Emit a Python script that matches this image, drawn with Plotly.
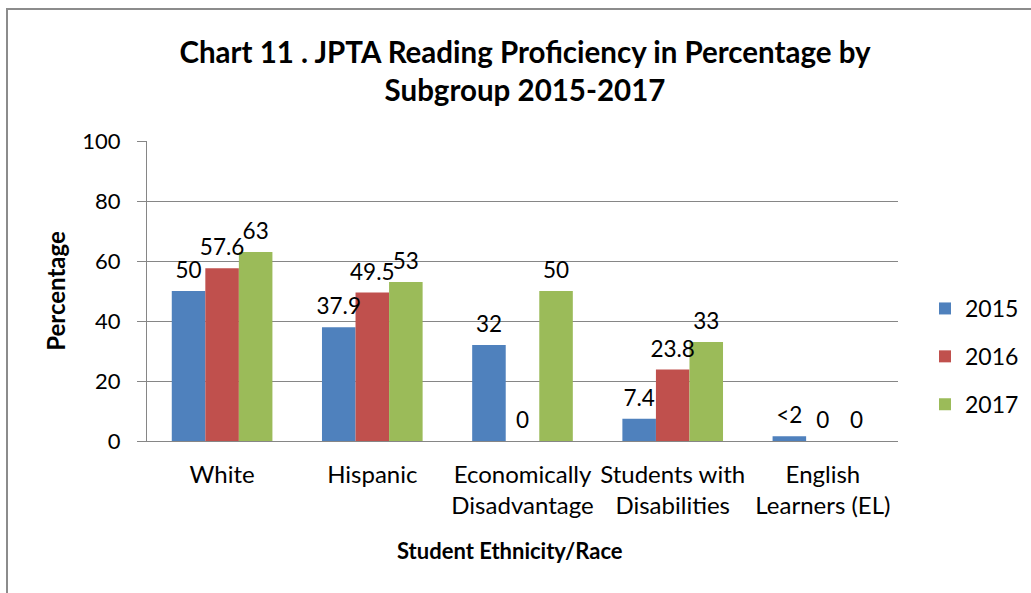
import plotly.graph_objects as go

# Subgroups on the category axis
categories = [
    "White",
    "Hispanic",
    "Economically<br>Disadvantage",
    "Students with<br>Disabilities",
    "English<br>Learners (EL)",
]

# Reading proficiency (%) per year
years = ["2015", "2016", "2017"]
values_2015 = [50, 37.9, 32, 7.4, 1.6]
values_2016 = [57.6, 49.5, 0, 23.8, 0]
values_2017 = [63, 53, 50, 33, 0]

# Bar labels (the small EL value is reported as "<2")
labels_2015 = ["50", "37.9", "32", "7.4", "<2"]
labels_2016 = ["57.6", "49.5", "0", "23.8", "0"]
labels_2017 = ["63", "53", "50", "33", "0"]

colors = ["#4F81BD", "#C0504D", "#9BBB59"]
FONT = "Lato, Open Sans, sans-serif"

fig = go.Figure()
series = list(zip(
    years,
    [values_2015, values_2016, values_2017],
    [labels_2015, labels_2016, labels_2017],
    colors,
))

for name, vals, labs, col in series:
    fig.add_trace(
        go.Bar(
            name=name,
            legendgroup=name,
            offsetgroup=name,
            x=categories,
            y=vals,
            marker=dict(color=col, line=dict(width=0)),
        )
    )

# Value labels: invisible markers at each bar top, text placed above them
for name, vals, labs, col in series:
    fig.add_trace(
        go.Scatter(
            name=name,
            legendgroup=name,
            offsetgroup=name,
            showlegend=False,
            x=categories,
            y=vals,
            mode="markers+text",
            marker=dict(size=10, opacity=0),
            text=labs,
            textposition="top center",
            textfont=dict(family=FONT, size=22.5, color="#000000"),
            cliponaxis=False,
            hoverinfo="skip",
        )
    )

# Plot area geometry in pixels, used for the outer frame
L, R, T, B = 147, 898, 141, 441
W, H = 1031, 593
pw, ph = R - L, B - T

def px_x(x):
    return (x - L) / pw

def px_y(y):
    return (B - y) / ph

fig.update_layout(
    width=W,
    height=H,
    margin=dict(l=L, r=W - R, t=T, b=H - B, autoexpand=False),
    paper_bgcolor="white",
    plot_bgcolor="white",
    barmode="group",
    scattermode="group",
    bargap=0.33,
    bargroupgap=0,
    scattergap=0.33,
    font=dict(family=FONT, size=22, color="#000000"),
    title=dict(
        text="<b>Chart 11 . JPTA Reading Proficiency in Percentage by<br>Subgroup 2015-2017</b>",
        x=525 / W,
        xanchor="center",
        y=1 - 63 / H,
        yanchor="middle",
        font=dict(family=FONT, size=29.5, color="#000000"),
    ),
    legend=dict(
        x=px_x(925),
        y=px_y(287),
        xanchor="left",
        yanchor="top",
        font=dict(family=FONT, size=23),
        tracegroupgap=15,
        itemsizing="constant",
        bgcolor="rgba(0,0,0,0)",
    ),
    xaxis=dict(
        showgrid=False,
        showline=True,
        linecolor="#868686",
        linewidth=1,
        ticks="",
        ticklabelstandoff=12,
        tickfont=dict(family=FONT, size=24),
    ),
    yaxis=dict(
        range=[0, 100],
        dtick=20,
        showgrid=True,
        gridcolor="#868686",
        gridwidth=1,
        showline=True,
        linecolor="#868686",
        linewidth=1,
        ticks="outside",
        ticklen=9,
        tickcolor="#868686",
        ticklabelstandoff=12,
        tickfont=dict(family=FONT, size=22),
        zeroline=False,
        title=dict(
            text="<b>Percentage</b>",
            font=dict(family=FONT, size=24),
            standoff=9,
        ),
    ),
    annotations=[
        dict(
            text="<b>Student Ethnicity/Race</b>",
            xref="paper",
            yref="paper",
            x=px_x(510),
            y=px_y(550),
            xanchor="center",
            yanchor="middle",
            showarrow=False,
            font=dict(family=FONT, size=22, color="#000000"),
        )
    ],
    shapes=[
        dict(
            type="rect",
            xref="paper",
            yref="paper",
            x0=px_x(7),
            x1=px_x(W + 60),
            y0=px_y(H + 60),
            y1=px_y(9),
            line=dict(color="#8C8C8C", width=2),
            fillcolor="rgba(0,0,0,0)",
            layer="below",
        )
    ],
)

fig.write_html("out.html")
